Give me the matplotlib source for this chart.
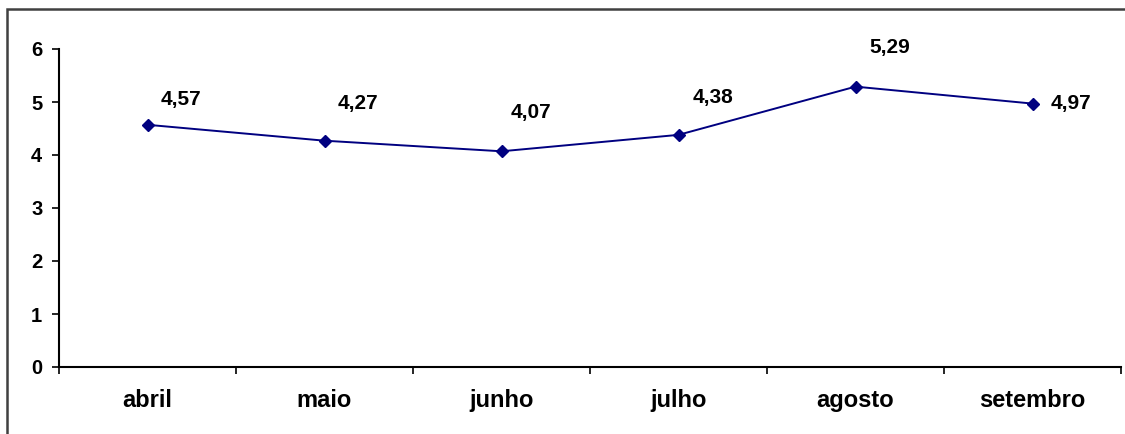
import matplotlib.pyplot as plt
from matplotlib.patches import Rectangle
import numpy as np

# monthly values
months = ['abril', 'maio', 'junho', 'julho', 'agosto', 'setembro']
values = [4.57, 4.27, 4.07, 4.38, 5.29, 4.97]
# label offsets in points (dx, dy)
labelOffsets = [(24, 18), (24, 27), (21, 28), (25, 27), (25, 28), (28, 0)]

plt.rcParams['font.family'] = ['Liberation Sans', 'DejaVu Sans']
plt.rcParams['font.weight'] = 'bold'

fig = plt.figure(figsize=(11.25, 4.34), dpi=100)
fig.patch.set_facecolor('white')

# outer frame around the chart area
fig.patches.append(Rectangle((7 / 1125, -0.2), 1.2, 1.2 - 9 / 434,
                             transform=fig.transFigure, fill=False,
                             edgecolor='#404040', linewidth=1.8))

ax = fig.add_axes([59 / 1125, 1 - 367 / 434, (1121 - 59) / 1125, (367 - 49) / 434])
xPos = np.arange(len(months))
ax.plot(xPos, values, color='#000080', linewidth=1.4, marker='D', markersize=6.5,
        markerfacecolor='#000080', markeredgecolor='#000080')

for x, v, (dx, dy) in zip(xPos, values, labelOffsets):
    ax.annotate(('%.2f' % v).replace('.', ','), (x, v), xytext=(dx, dy),
                textcoords='offset points', ha='center', va='center',
                fontsize=15, fontweight='bold')

ax.set_xlim(-0.5, len(months) - 0.5)
ax.set_ylim(0, 6)
ax.set_yticks(range(0, 7))
ax.tick_params(axis='y', labelsize=14.5, length=5, width=1.2, pad=7, direction='out')

# ticks at the category boundaries, labels in the middle
ax.set_xticks(np.arange(-0.5, len(months)), minor=False)
ax.set_xticklabels([])
ax.set_xticks(xPos, minor=True)
ax.set_xticklabels(months, minor=True)
ax.tick_params(axis='x', which='major', length=5, width=1.2, direction='out')
ax.tick_params(axis='x', which='minor', length=0, labelsize=17, pad=16)

for side in ['top', 'right']:
    ax.spines[side].set_visible(False)
for side in ['left', 'bottom']:
    ax.spines[side].set_linewidth(1.5)

plt.savefig('out.png', dpi=100)
